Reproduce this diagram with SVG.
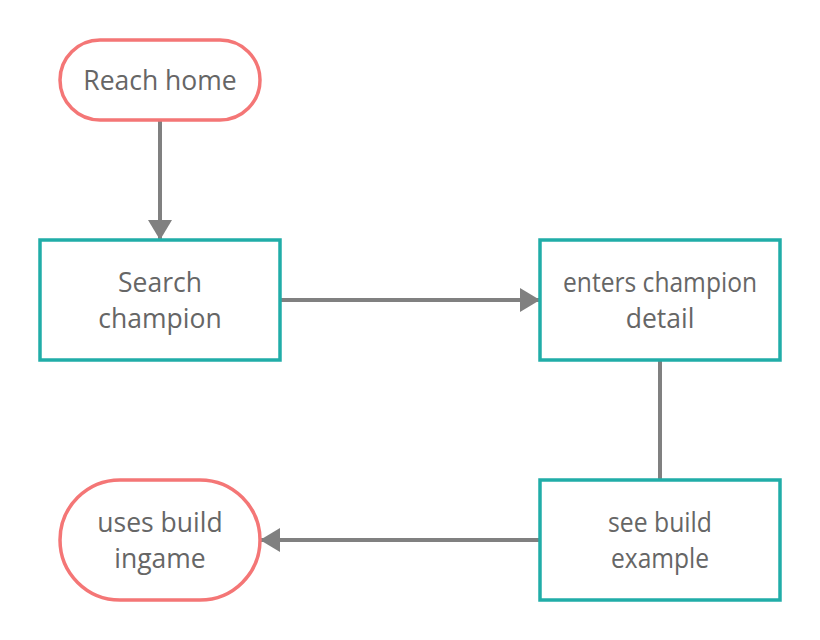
<svg xmlns="http://www.w3.org/2000/svg" width="820" height="640" viewBox="0 0 820 640">
<style>
.term{fill:#fff;stroke:#F47676;stroke-width:3.5}
.proc{fill:#fff;stroke:#20ADA8;stroke-width:3.5}
.lbl{font-family:"Open Sans",sans-serif;font-size:26.5px;fill:#666;text-anchor:middle;dominant-baseline:central}
.conn{stroke:#808080;stroke-width:4;fill:none}
</style>
<defs>
<marker id="ah" markerUnits="userSpaceOnUse" markerWidth="24" markerHeight="24" viewBox="0 0 20 24" refX="20" refY="12" orient="auto">
<path d="M0,0 L20,12 L0,24 Z" fill="#808080"/>
</marker>
</defs>
<rect width="820" height="640" fill="#fff"/>
<g id="connectors">
<line class="conn" x1="160" y1="120" x2="160" y2="240" marker-end="url(#ah)"/>
<line class="conn" x1="280" y1="300" x2="540" y2="300" marker-end="url(#ah)"/>
<line class="conn" x1="660" y1="360" x2="660" y2="480"/>
<line class="conn" x1="540" y1="540" x2="260" y2="540" marker-end="url(#ah)"/>
</g>
<g id="reach-home">
<rect class="term" x="60" y="40" width="200" height="80" rx="40"/>
<text class="lbl" x="160" y="80">Reach home</text>
</g>
<g id="search-champion">
<rect class="proc" x="40" y="240" width="240" height="120"/>
<text class="lbl" x="160" y="282">Search</text>
<text class="lbl" x="160" y="318">champion</text>
</g>
<g id="enters-champion-detail">
<rect class="proc" x="540" y="240" width="240" height="120"/>
<text class="lbl" x="660" y="282" textLength="194" lengthAdjust="spacingAndGlyphs">enters champion</text>
<text class="lbl" x="660" y="318">detail</text>
</g>
<g id="see-build-example">
<rect class="proc" x="540" y="480" width="240" height="120"/>
<text class="lbl" x="660" y="522" textLength="104" lengthAdjust="spacingAndGlyphs">see build</text>
<text class="lbl" x="660" y="558" textLength="98" lengthAdjust="spacingAndGlyphs">example</text>
</g>
<g id="uses-build-ingame">
<rect class="term" x="60" y="480" width="200" height="120" rx="60"/>
<text class="lbl" x="160" y="522">uses build</text>
<text class="lbl" x="160" y="558">ingame</text>
</g>
</svg>
